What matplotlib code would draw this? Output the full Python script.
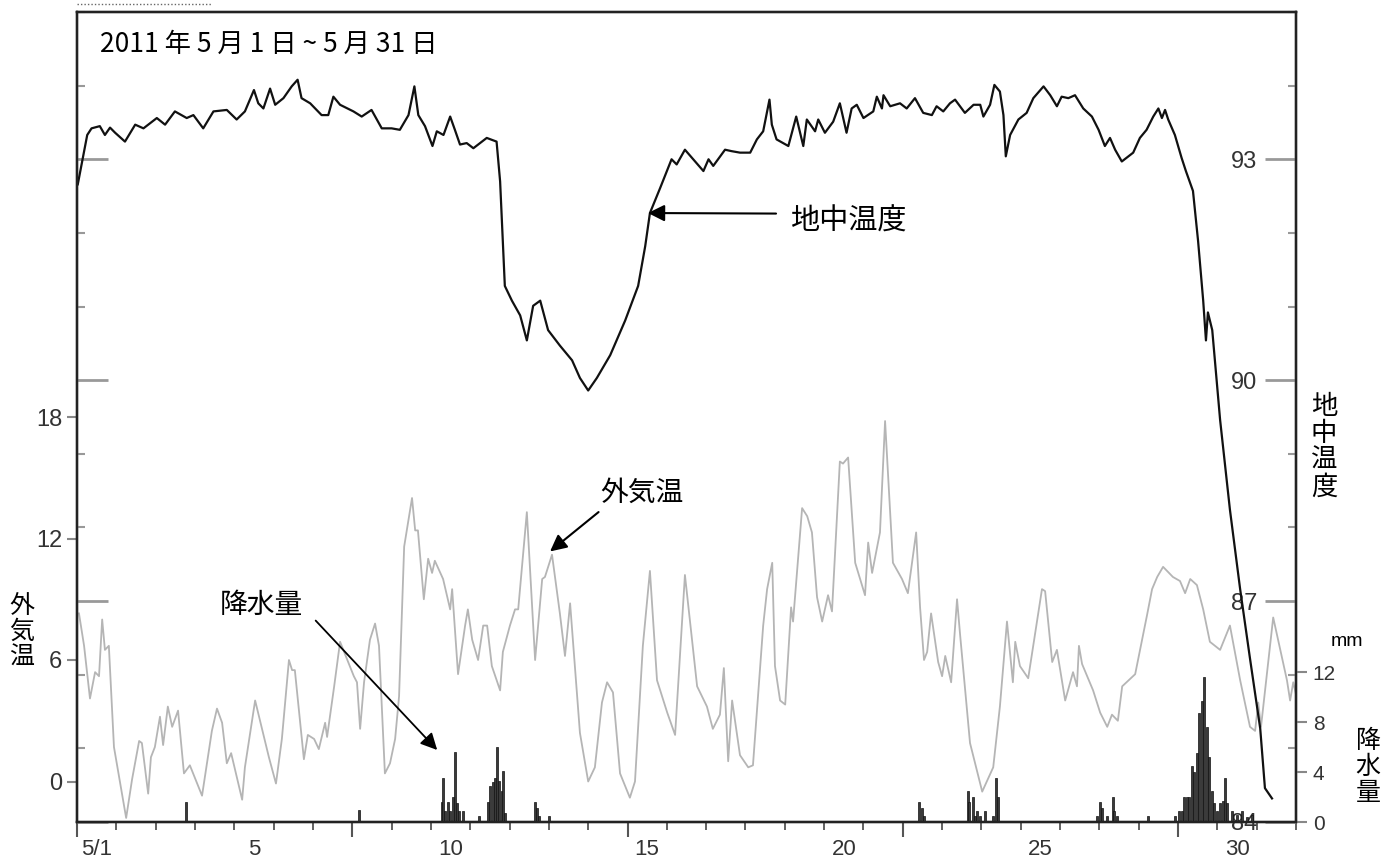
import matplotlib
matplotlib.use("Agg")
import matplotlib.pyplot as plt
from matplotlib.lines import Line2D

plt.rcParams["font.family"] = ["Noto Sans CJK JP", "DejaVu Sans"]

# time axis: days since 2011-05-01 00:00
day_edges = list(range(0, 32))
week_edges = [0, 7, 14, 21, 28]
label_days = [0.5, 4.5, 9.5, 14.5, 19.5, 24.5, 29.5]
label_text = ["5/1", "5", "10", "15", "20", "25", "30"]

# outside air temperature (degC)
air_day = [
    0.05, 0.18, 0.33, 0.46, 0.56, 0.64, 0.71, 0.81, 0.94, 1.09, 1.25, 1.40,
    1.58, 1.65, 1.81, 1.88, 1.98, 2.11, 2.19, 2.31, 2.42, 2.57, 2.72, 2.87,
    3.18, 3.43, 3.56, 3.69, 3.81, 3.92, 4.20, 4.27, 4.53, 4.88, 5.06, 5.21,
    5.39, 5.47, 5.54, 5.77, 5.87, 6.03, 6.15, 6.31, 6.36, 6.54, 6.69, 7.04,
    7.12, 7.20, 7.30, 7.45, 7.58, 7.68, 7.83, 7.96, 8.09, 8.19, 8.32, 8.52,
    8.60, 8.67, 8.82, 8.93, 9.03, 9.10, 9.31, 9.49, 9.54, 9.69, 9.87, 9.94,
    10.05, 10.20, 10.33, 10.43, 10.55, 10.76, 10.83, 11.01, 11.14, 11.22,
    11.44, 11.65, 11.83, 11.90, 12.08, 12.28, 12.41, 12.54, 12.79, 13.00,
    13.17, 13.35, 13.48, 13.63, 13.81, 14.06, 14.19, 14.39, 14.57, 14.75,
    15.01, 15.21, 15.46, 15.77, 16.02, 16.17, 16.35, 16.45, 16.56, 16.66,
    16.86, 17.07, 17.19, 17.45, 17.55, 17.68, 17.75, 17.88, 18.01, 18.16,
    18.21, 18.44, 18.57, 18.69, 18.82, 18.95, 19.10, 19.20, 19.40, 19.48,
    19.61, 19.79, 20.04, 20.12, 20.22, 20.42, 20.55, 20.75, 20.98, 21.13,
    21.34, 21.44, 21.54, 21.62, 21.72, 21.90, 22.00, 22.08, 22.23, 22.38,
    22.46, 22.71, 23.02, 23.30, 23.47, 23.65, 23.80, 23.86, 23.98, 24.19,
    24.54, 24.62, 24.80, 24.92, 25.13, 25.33, 25.43, 25.48, 25.56, 25.84,
    26.02, 26.20, 26.32, 26.47, 26.58, 26.91, 27.21, 27.34, 27.47, 27.62,
    27.87, 28.05, 28.18, 28.31, 28.48, 28.64, 28.81, 29.07, 29.32, 29.58,
    29.83, 29.96, 30.04, 30.11, 30.42, 30.77, 30.85, 30.93, 31.00,
]
air_temp = [
    8.3, 6.7, 4.1, 5.4, 5.2, 8.0, 6.5, 6.7, 1.7, 0.0, -1.8, 0.1,
    2.0, 1.9, -0.6, 1.2, 1.7, 3.2, 1.8, 3.7, 2.7, 3.5, 0.4, 0.8,
    -0.7, 2.5, 3.6, 2.9, 0.9, 1.4, -0.9, 0.7, 4.0, 1.2, -0.1, 2.1,
    6.0, 5.5, 5.5, 1.1, 2.3, 2.1, 1.6, 2.9, 2.2, 4.7, 6.9, 5.2,
    4.9, 2.6, 4.9, 7.0, 7.8, 6.7, 0.4, 0.9, 2.1, 4.2, 11.6, 14.0,
    12.4, 12.4, 9.0, 11.0, 10.3, 10.9, 10.0, 8.5, 9.5, 5.3, 7.7, 8.5,
    7.0, 6.0, 7.7, 7.7, 5.7, 4.5, 6.4, 7.7, 8.5, 8.5,
    13.3, 6.0, 10.0, 10.1, 11.2, 8.3, 6.2, 8.8, 2.4, 0.0,
    0.7, 3.9, 4.9, 4.4, 0.4, -0.8, 0.0, 6.7, 10.4, 5.0,
    3.4, 2.3, 10.2, 4.7, 3.7, 2.6, 3.3, 5.6, 1.0, 4.0,
    1.3, 0.7, 0.8, 7.7, 9.5, 10.8, 5.7, 4.0, 3.8, 8.6,
    7.9, 13.5, 13.1, 12.3, 9.1, 7.9, 9.2, 8.4, 15.8, 15.7,
    16.0, 10.8, 9.2, 11.8, 10.3, 12.3, 17.8, 10.8, 10.0, 9.3,
    12.3, 8.6, 6.0, 6.4, 8.3, 5.9, 5.2, 6.2, 4.9, 9.0,
    7.2, 1.9, -0.5, 0.7, 3.7, 7.9, 4.9, 6.9, 5.7, 5.1,
    9.5, 9.4, 5.9, 6.5, 4.0, 5.4, 4.7, 6.7, 5.8, 4.5,
    3.4, 2.7, 3.3, 3.0, 4.7, 5.3, 8.2, 9.5, 10.1, 10.6,
    10.1, 9.9, 9.3, 10.0, 9.7, 8.5, 6.9, 6.5, 7.7, 5.0,
    2.7, 2.5, 3.9, 2.7, 8.1, 5.0, 4.0, 4.9, 4.3,
]

# ground temperature (degC)
soil_day = [
    0.02, 0.26, 0.37, 0.58, 0.71, 0.84, 0.97, 1.22, 1.48, 1.69, 2.03, 2.24,
    2.49, 2.79, 2.96, 3.21, 3.47, 3.81, 4.06, 4.27, 4.50, 4.61, 4.74, 4.91,
    5.04, 5.25, 5.46, 5.61, 5.71, 5.93, 6.22, 6.39, 6.52, 6.69, 7.03, 7.24,
    7.49, 7.75, 8.00, 8.21, 8.43, 8.58, 8.68, 8.85, 9.04, 9.15, 9.32, 9.49,
    9.61, 9.74, 9.91, 10.08, 10.25, 10.42, 10.67,
    10.76, 10.88, 11.06, 11.27, 11.44, 11.60, 11.78, 11.98, 12.28, 12.59,
    12.79, 13.00, 13.22, 13.56, 13.94, 14.27, 14.45, 14.57, 14.83,
    15.12, 15.25, 15.46, 15.67, 15.93, 16.06, 16.18, 16.48, 16.65, 16.86,
    17.12, 17.29, 17.45, 17.61, 17.67, 17.79, 18.09, 18.29, 18.47, 18.56,
    18.77, 18.85, 19.02, 19.23, 19.40, 19.57, 19.70, 19.83, 20.00, 20.25,
    20.34, 20.47, 20.51, 20.68, 20.93, 21.10, 21.31, 21.52, 21.74, 21.86,
    22.03, 22.20, 22.33, 22.58, 22.80, 22.97, 23.05, 23.22, 23.33, 23.47,
    23.56, 23.62, 23.73, 23.94, 24.15, 24.32, 24.58, 24.75, 24.92, 25.04,
    25.21, 25.38, 25.59, 25.81, 25.98, 26.14, 26.27, 26.40, 26.57, 26.74,
    26.86, 27.03, 27.20, 27.37, 27.50, 27.59, 27.67, 27.75, 27.92, 28.09,
    28.20, 28.38, 28.51, 28.64, 28.71, 28.76, 28.87, 29.07, 29.32, 29.58,
    29.83, 30.09, 30.21, 30.39,
]
soil_temp = [
    92.66, 93.33, 93.42, 93.45, 93.33, 93.43, 93.36, 93.24, 93.47, 93.42,
    93.56, 93.47, 93.65, 93.56, 93.60, 93.42, 93.65, 93.67, 93.54, 93.65,
    93.94, 93.76, 93.69, 93.96, 93.74, 93.83, 93.99, 94.08, 93.83, 93.76,
    93.60, 93.60, 93.85, 93.74, 93.65, 93.58, 93.67, 93.42, 93.42, 93.40,
    93.60, 93.99, 93.60, 93.45, 93.18, 93.38, 93.33, 93.58, 93.40, 93.20,
    93.22, 93.15, 93.22, 93.29, 93.24,
    92.70, 91.28, 91.08, 90.88, 90.54, 91.01, 91.08, 90.68, 90.47, 90.27,
    90.03, 89.86, 90.03, 90.34, 90.81, 91.28, 91.82, 92.27, 92.61,
    93.00, 92.93, 93.13, 93.00, 92.84, 93.00, 92.91, 93.13, 93.11, 93.09,
    93.09, 93.27, 93.38, 93.81, 93.47, 93.27, 93.18, 93.58, 93.18, 93.54,
    93.38, 93.54, 93.36, 93.51, 93.76, 93.36, 93.69, 93.74, 93.56, 93.65,
    93.85, 93.69, 93.87, 93.72, 93.76, 93.69, 93.83, 93.63, 93.60, 93.72,
    93.65, 93.76, 93.81, 93.63, 93.74, 93.74, 93.58, 93.74, 94.01, 93.92,
    93.60, 93.04, 93.33, 93.54, 93.63, 93.83, 93.99, 93.87, 93.72, 93.85,
    93.83, 93.87, 93.69, 93.58, 93.40, 93.18, 93.29, 93.13, 92.97, 93.04,
    93.09, 93.29, 93.40, 93.58, 93.69, 93.56, 93.67, 93.54, 93.33, 93.02,
    92.84, 92.57, 91.89, 91.08, 90.54, 90.92, 90.68, 89.46, 88.24, 87.16,
    86.22, 85.27, 84.46, 84.32,
]

# hourly precipitation (mm)
rain_day = [
    2.77, 7.17, 9.28, 9.31, 9.36, 9.44, 9.49, 9.56, 9.61, 9.66, 9.72, 9.82,
    10.22, 10.45, 10.50, 10.58, 10.63, 10.68, 10.73, 10.81, 10.83, 10.88,
    11.65, 11.70, 11.75, 12.00, 21.41, 21.49, 21.54, 22.66, 22.69, 22.79,
    22.84, 22.89, 22.97, 23.09, 23.30, 23.37, 23.42, 25.94, 26.02, 26.07,
    26.20, 26.35, 26.37, 26.45, 27.24, 27.92, 28.02, 28.10, 28.15, 28.23,
    28.28, 28.36, 28.41, 28.48, 28.53, 28.61, 28.66, 28.74, 28.79, 28.87,
    28.92, 28.99, 29.07, 29.15, 29.20, 29.25, 29.37, 29.50, 29.63, 29.76,
    29.88,
]
rain_mm = [
    1.6, 1.0, 1.6, 3.5, 0.9, 1.6, 0.9, 2.0, 5.6, 1.5, 0.9, 0.9,
    0.5, 1.6, 2.9, 3.2, 3.5, 6.0, 3.3, 2.5, 4.1, 0.7,
    1.6, 1.1, 0.5, 0.5, 1.6, 1.1, 0.5, 2.5, 1.6, 2.0,
    0.5, 0.9, 0.5, 0.9, 0.5, 3.5, 2.0, 0.5, 1.6, 1.1,
    0.5, 2.0, 0.9, 0.5, 0.5, 0.5, 0.9, 0.9, 2.0, 2.0,
    2.0, 4.5, 4.0, 5.5, 8.7, 9.7, 11.6, 7.6, 5.2, 2.5,
    1.5, 0.9, 1.5, 1.7, 3.5, 1.5, 0.9, 0.6, 0.9, 0.4,
    0.6,
]

air_ticks = [0, 6, 12, 18]
soil_major = [84, 87, 90, 93]
soil_minor = list(range(84, 96))
rain_ticks = [0, 4, 8, 12]

W, H = 1396, 866
fig = plt.figure(figsize=(W / 100, H / 100), dpi=100)
ax = fig.add_axes([77 / W, 1 - 822 / H, 1219 / W, 810 / H])
ax2 = ax.twinx()
ax3 = ax.twinx()

ax.plot(air_day, air_temp, color="#b5b5b5", lw=1.3)
ax2.plot(soil_day, soil_temp, color="#111111", lw=1.6)
ax3.bar(rain_day, rain_mm, width=0.045, color="#3a3a3a",
        edgecolor="#111111", linewidth=0.5)

ax.set_xlim(0, 31)
ax.set_ylim(-2, 38)
ax2.set_ylim(84, 95)
ax3.set_ylim(0, 64.8)

for a in (ax, ax2, ax3):
    for sp in a.spines.values():
        sp.set_linewidth(1.6)
        sp.set_color("#222222")

num_font = "Liberation Sans"

# x axis: day boundaries, longer marks every week, labels at day centres
ax.set_xticks(week_edges)
ax.set_xticks(day_edges, minor=True)
ax.tick_params(axis="x", which="major", direction="out", length=11,
               width=1.5, color="#555555", labelbottom=False)
ax.tick_params(axis="x", which="minor", direction="out", length=6,
               width=1.3, color="#555555")
sec = ax.secondary_xaxis("bottom")
sec.set_xticks(label_days, labels=label_text)
sec.tick_params(length=0, pad=12, labelsize=16, labelcolor="#333333",
                labelfontfamily=num_font)
sec.spines["bottom"].set_visible(False)

# outside temperature axis (left)
ax.set_yticks(air_ticks)
ax.tick_params(axis="y", direction="out", length=7, width=1.5,
               color="#888888", labelsize=17, pad=3.5,
               labelcolor="#333333", labelfontfamily=num_font)

# ground temperature axis: inward marks on both sides, labels inside
ax2.set_yticks(soil_major)
ax2.set_yticks(soil_minor, minor=True)
ax2.yaxis.set_ticks_position("both")
ax2.tick_params(axis="y", which="major", direction="in", length=22,
                width=2, color="#999999", left=True, right=True,
                labelleft=False, labelright=True, labelsize=17, pad=-28,
                labelcolor="#333333", labelfontfamily=num_font)
ax2.tick_params(axis="y", which="minor", direction="in", length=6,
                width=1.5, color="#999999", left=True, right=True)
for lab in ax2.get_yticklabels():
    lab.set_horizontalalignment("right")

# precipitation axis (right, outward)
ax3.set_yticks(rain_ticks)
ax3.tick_params(axis="y", direction="out", length=8, width=1.5,
                color="#888888", labelsize=15, pad=4,
                labelcolor="#333333", labelfontfamily=num_font)

ax.text(0.019, 0.9605, "2011 年 5 月 1 日 ~ 5 月 31 日", transform=ax.transAxes,
        fontsize=19, va="center", ha="left")

arrow = dict(arrowstyle="-|>", color="black", lw=1.5, mutation_scale=25,
             shrinkB=0)
ax2.annotate("地中温度", xy=(14.52, 92.27), xytext=(18.13, 92.16),
             ha="left", va="center", fontsize=21,
             arrowprops=dict(arrow, shrinkA=8, relpos=(0.0, 0.75)))
ax.annotate("外気温", xy=(12.03, 11.36), xytext=(13.30, 14.27),
            ha="left", va="center", fontsize=20,
            arrowprops=dict(arrow, shrinkA=2, relpos=(0.05, 0.0)))
ax3.annotate("降水量", xy=(9.16, 5.76), xytext=(3.64, 17.4),
             ha="left", va="center", fontsize=20,
             arrowprops=dict(arrow, lw=1.3, shrinkA=10, relpos=(1.0, 0.4)))

# axis titles, stacked vertically
fig.text(22 / W, 1 - 632 / H, "外\n気\n温", fontsize=18, ha="center",
         va="center", linespacing=1.0)
fig.text(1324 / W, 1 - 447 / H, "地\n中\n温\n度", fontsize=19, ha="center",
         va="center", linespacing=1.0)
fig.text(1368 / W, 1 - 767 / H, "降\n水\n量", fontsize=18, ha="center",
         va="center", linespacing=1.0)
fig.text(1347 / W, 1 - 641 / H, "mm", fontsize=14, ha="center",
         va="center", family=num_font)

fig.add_artist(Line2D([77 / W, 212 / W], [1 - 4 / H, 1 - 4 / H],
                      transform=fig.transFigure, color="#666666",
                      lw=1.0, ls=(0, (1, 1.5))))

fig.savefig("out.png", dpi=100)
